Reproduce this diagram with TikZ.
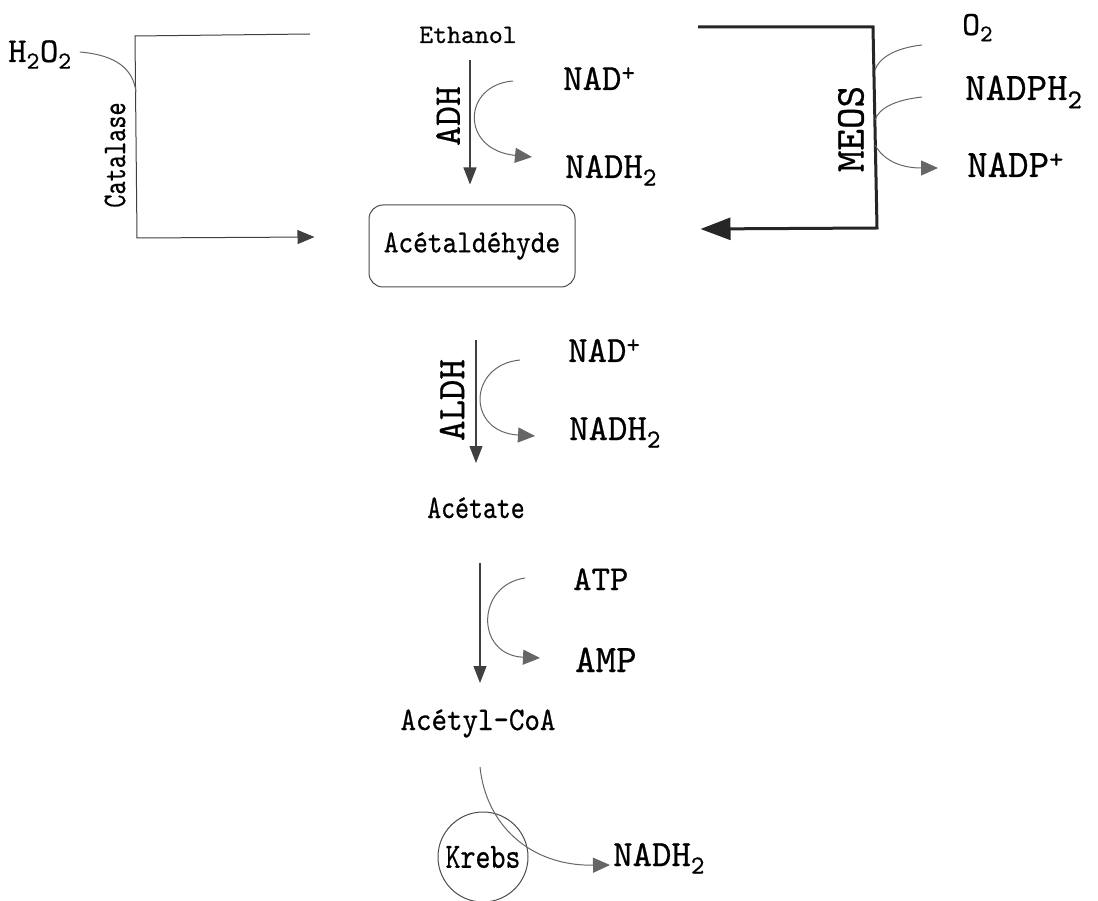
\documentclass[tikz,border=0pt]{standalone}
\usepackage{fontspec}
\newfontfamily\slab{lmmono10-regular}[Extension=.otf, FakeBold=0.6]
\usetikzlibrary{arrows.meta,calc}
\tikzset{
  ln/.style={draw=black!75, line width=1.1pt},
  arr/.style={ln, -{Triangle[length=17pt,width=13pt]}},
  cur/.style={draw=black!60, line width=1pt},
  carr/.style={cur, -{Triangle[length=17pt,width=15pt]}},
  meos/.style={draw=black!85, line width=3pt, -{Triangle[length=30pt,width=22pt]}},
  cof/.style={font=\slab\fontsize{37}{40}\selectfont, inner sep=0pt, anchor=base west},
  met/.style={font=\slab\fontsize{27}{30}\selectfont, inner sep=0pt, anchor=base},
  enz/.style={font=\slab\fontsize{39}{42}\selectfont, rotate=90, inner sep=0pt},
}
\newcommand\tallbox[1]{\scalebox{1}[1.25]{#1}}
\begin{document}
\begin{tikzpicture}[x=1pt,y=-1pt]
\path[use as bounding box, fill=white] (0,0) rectangle (1098,901);

% metabolites
\node[met, font=\slab\fontsize{26.5}{30}\selectfont] (eth) at (468,43) {Ethanol};
\node[draw=black!70, line width=1pt, rounded corners=14pt, minimum width=206pt,
      minimum height=82pt, font=\slab\fontsize{28}{30}\selectfont] (ald) at (472,246) {\scalebox{1}[1.15]{Acétaldéhyde}};
\node[met, font=\slab\fontsize{26.5}{30}\selectfont] (acet) at (476,518) {\tallbox{Acétate}};
\node[met, font=\slab\fontsize{29.5}{30}\selectfont] (acoa) at (478,730) {\scalebox{1}[1.12]{Acétyl-CoA}};
\node[circle, draw=black!70, line width=1pt, minimum size=90pt, inner sep=0pt,
      font=\slab\fontsize{28.5}{30}\selectfont] (krebs) at (483,857) {\tallbox{Krebs}};

% enzymes
\node[enz, font=\slab\fontsize{38}{42}\selectfont] (adh) at (448,116) {ADH};
\node[enz] (aldh) at (452,400) {ALDH};
\node[enz, font=\slab\fontsize{41}{42}\selectfont] (meosl) at (851,129) {MEOS};
\node[enz, font=\slab\fontsize{33}{40}\selectfont] (cat) at (115,155) {\scalebox{0.76}[1]{Catalase}};

% cofactors
\node[cof, font=\slab\fontsize{35}{40}\selectfont] (h2o2) at (8,62) {H\textsubscript{2}O\textsubscript{2}};
\node[cof] (nad1) at (563,90) {NAD\textsuperscript{+}};
\node[cof] (nadh1) at (565,178) {NADH\textsubscript{2}};
\node[cof] (nad2) at (568,362) {NAD\textsuperscript{+}};
\node[cof] (nadh2) at (569,440) {NADH\textsubscript{2}};
\node[cof, font=\slab\fontsize{35}{40}\selectfont] (atp) at (573,590) {ATP};
\node[cof, font=\slab\fontsize{39}{40}\selectfont] (amp) at (575,672) {AMP};
\node[cof] (nadh3) at (613,866) {NADH\textsubscript{2}};
\node[cof, font=\slab\fontsize{34}{40}\selectfont] (o2) at (962,35) {O\textsubscript{2}};
\node[cof, font=\slab\fontsize{39}{40}\selectfont] (nadph) at (965,100) {NADPH\textsubscript{2}};
\node[cof, font=\slab\fontsize{39}{40}\selectfont] (nadp) at (967,177) {NADP\textsuperscript{+}};

% main chain
\draw[arr] ($(eth.base)+(2,17)$) -- ($(ald.north)+(-2,-20)$);
\draw[arr] ($(ald.south)+(4,53)$) -- ($(acet.base)+(0,-55)$);
\draw[arr] ($(acet.base)+(4,45)$) -- ($(acoa.base)+(2,-47)$);

% side reactions
\coordinate (c1) at (513,81);  \coordinate (c1e) at (532,157);
\draw[carr] (c1) .. controls (462,85) and (460,150) .. (c1e);
\coordinate (c2) at (520,360); \coordinate (c2e) at (535,436);
\draw[carr] (c2) .. controls (468,365) and (466,432) .. (c2e);
\coordinate (c3) at (525,578); \coordinate (c3e) at (540,658);
\draw[carr] (c3) .. controls (476,585) and (475,655) .. (c3e);

% Krebs
\draw[carr] ($(acoa.base)+(2,37)$) .. controls (486,825) and (530,866) .. ($(nadh3.base west)+(-3,-1)$);

% Catalase
\coordinate (catA) at (310,34);
\coordinate (catB) at (135,36);
\coordinate (catC) at (137,238);
\draw[ln, line width=1pt, -{Triangle[length=17pt,width=14pt]}] (catA) -- (catB) -- (catC) -- ($(ald.west)+(-54,-9)$);
\coordinate (h2e) at (136,92);
\draw[cur] ($(h2o2.base east)+(8,-10)$) .. controls (115,55) and (133,68) .. (h2e);

% MEOS
\coordinate (mA) at (698,27);
\coordinate (mB) at (873,27);
\coordinate (mC) at (877,228);
\draw[meos] (mA) -- (mB) -- (mC) -- ($(ald.east)+(125,-17)$);
\coordinate (m1) at (922,45);  \coordinate (m1e) at (875,70);
\draw[cur] (m1) .. controls (895,48) and (879,58) .. (m1e);
\coordinate (m2) at (922,97);  \coordinate (m2e) at (875,120);
\draw[cur] (m2) .. controls (895,100) and (879,108) .. (m2e);
\coordinate (m3) at (875,145); \coordinate (m3e) at (938,168);
\draw[carr] (m3) .. controls (885,163) and (905,168) .. (m3e);
\end{tikzpicture}
\end{document}
